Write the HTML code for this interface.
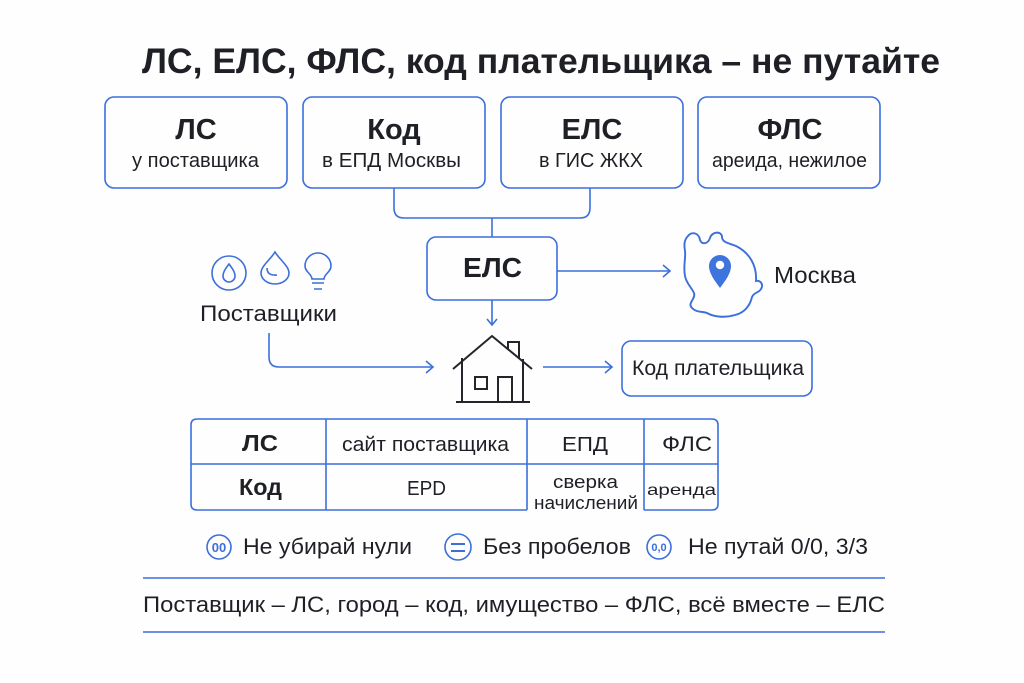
<!DOCTYPE html>
<html>
<head>
<meta charset="utf-8">
<style>
html,body{margin:0;padding:0;background:#fefefe;}
svg{display:block;}
text{font-family:"Liberation Sans","DejaVu Sans",sans-serif;fill:#1e2026;}
.b{font-weight:bold;}
</style>
</head>
<body>
<svg width="1024" height="683" viewBox="0 0 1024 683" xmlns="http://www.w3.org/2000/svg">
<rect x="0" y="0" width="1024" height="683" fill="#fefefe"/>

<!-- Title -->
<text x="142" y="73" font-size="35" class="b" textLength="798" lengthAdjust="spacingAndGlyphs">ЛС, ЕЛС, ФЛС, код плательщика – не путайте</text>

<g fill="none" stroke="#3b6fdc" stroke-width="1.6">
  <!-- top boxes -->
  <rect x="105" y="97" width="182" height="91" rx="9"/>
  <rect x="303" y="97" width="182" height="91" rx="9"/>
  <rect x="501" y="97" width="182" height="91" rx="9"/>
  <rect x="698" y="97" width="182" height="91" rx="9"/>
  <!-- connectors to ELS -->
  <path d="M394,188 V208 Q394,218 404,218 H580 Q590,218 590,208 V188"/>
  <path d="M492,218 V237"/>
  <!-- ELS box -->
  <rect x="427" y="237" width="130" height="63" rx="9"/>
  <!-- ELS down arrow -->
  <path d="M492,300 V325"/>
  <path d="M487,319 L492,325 L497,319"/>
  <!-- ELS right arrow -->
  <path d="M557,271 H670"/>
  <path d="M663,265 L670,271 L663,277"/>
  <!-- suppliers connector -->
  <path d="M269,333 V357 Q269,367 279,367 H433"/>
  <path d="M426,361 L433,367 L426,373"/>
  <!-- house to code arrow -->
  <path d="M543,367 H612"/>
  <path d="M605,361 L612,367 L605,373"/>
  <!-- Код плательщика box -->
  <rect x="622" y="341" width="190" height="55" rx="9"/>
  <!-- Moscow outline -->
  <path d="M688,236 C692,231 699,233 700,240 C702,245 708,244 710,238 C712,231 722,231 722,237 C722,242 728,243 736,246 C750,253 757,266 756,281 C760,280 764,284 761,289 C759,293 754,292 752,297 C750,306 744,313 735,315 C725,318 714,317 707,313 C702,311 697,313 692,308 C687,303 696,299 694,293 C692,288 686,283 685,276 C683,266 686,258 685,251 C684,245 684,240 688,236 Z" stroke-width="1.9"/>
  <!-- icons -->
  <circle cx="229" cy="273" r="17"/>
  <path d="M229,264 C226,268 223,272 223,276 A6,6 0 0 0 235,276 C235,272 232,268 229,264 Z"/>
  <path d="M275,252 C271,259 261,266 261,273 A14,11 0 0 0 289,273 C289,266 279,259 275,252 Z"/>
  <path d="M267,268 Q267,276 277,275"/>
  <path d="M312,279 C312,274 305,272 305,266 A13,13 0 1 1 331,266 C331,272 324,274 324,279 Z"/>
  <path d="M312,283 H324 M314,289 H322"/>
  <!-- table -->
  <path d="M527,510 H197 Q191,510 191,504 V425 Q191,419 197,419 H712 Q718,419 718,425 V504 Q718,510 712,510 H644"/>
  <path d="M191,464 H718 M326,419 V510 M527,419 V510 M644,419 V510"/>
  <!-- tips icons -->
  <circle cx="219" cy="547" r="12"/>
  <circle cx="458" cy="547" r="13"/>
  <path d="M451,544 H465 M451,551 H465" stroke-width="2"/>
  <circle cx="659" cy="547" r="12"/>
  <!-- lines -->
  <path d="M143,578 H885 M143,632 H885"/>
</g>

<!-- Moscow pin -->
<path d="M720,288 C714,280 709,273 709,266 A11,11 0 0 1 731,266 C731,273 726,280 720,288 Z" fill="#3e74de"/>
<circle cx="720" cy="265" r="4.2" fill="#fefefe"/>

<!-- house -->
<g fill="none" stroke="#23252a" stroke-width="2">
  <path d="M453,369 L492,336 L532,369"/>
  <path d="M508,349 V342 H519 V358"/>
  <path d="M462,358 V402 M523,359 V402 M456,402 H530"/>
  <rect x="475" y="377" width="12" height="12"/>
  <path d="M498,402 V377 H512 V402"/>
</g>

<!-- box texts -->
<text x="196" y="139" font-size="29" class="b" text-anchor="middle">ЛС</text>
<text x="132" y="167" font-size="20" textLength="127" lengthAdjust="spacingAndGlyphs">у поставщика</text>
<text x="394" y="139" font-size="29" class="b" text-anchor="middle">Код</text>
<text x="322" y="167" font-size="20" textLength="139" lengthAdjust="spacingAndGlyphs">в ЕПД Москвы</text>
<text x="592" y="139" font-size="29" class="b" text-anchor="middle">ЕЛС</text>
<text x="539" y="167" font-size="20" textLength="104" lengthAdjust="spacingAndGlyphs">в ГИС ЖКХ</text>
<text x="790" y="139" font-size="29" class="b" text-anchor="middle">ФЛС</text>
<text x="712" y="167" font-size="20" textLength="155" lengthAdjust="spacingAndGlyphs">ареида, нежилое</text>

<text x="463" y="277" font-size="28" class="b" textLength="59" lengthAdjust="spacingAndGlyphs">ЕЛС</text>
<text x="774" y="283" font-size="23" textLength="82" lengthAdjust="spacingAndGlyphs">Москва</text>
<text x="200" y="321" font-size="22" textLength="137" lengthAdjust="spacingAndGlyphs">Поставщики</text>
<text x="632" y="375" font-size="21" textLength="172" lengthAdjust="spacingAndGlyphs">Код плательщика</text>

<!-- table texts -->
<text x="242" y="451" font-size="23" class="b" textLength="36" lengthAdjust="spacingAndGlyphs">ЛС</text>
<text x="342" y="451" font-size="20" textLength="167" lengthAdjust="spacingAndGlyphs">сайт поставщика</text>
<text x="562" y="451" font-size="20" textLength="46" lengthAdjust="spacingAndGlyphs">ЕПД</text>
<text x="662" y="451" font-size="21" textLength="50" lengthAdjust="spacingAndGlyphs">ФЛС</text>
<text x="239" y="495" font-size="23" class="b" textLength="43" lengthAdjust="spacingAndGlyphs">Код</text>
<text x="407" y="495" font-size="20" textLength="39" lengthAdjust="spacingAndGlyphs">EPD</text>
<text x="553" y="488" font-size="18" textLength="65" lengthAdjust="spacingAndGlyphs">сверка</text>
<text x="534" y="509" font-size="18" textLength="104" lengthAdjust="spacingAndGlyphs">начислений</text>
<text x="647" y="495" font-size="16" textLength="69" lengthAdjust="spacingAndGlyphs">аренда</text>

<!-- tips -->
<text x="219" y="552" font-size="13" class="b" text-anchor="middle" style="fill:#3b6fdc">00</text>
<text x="659" y="551" font-size="11" class="b" text-anchor="middle" style="fill:#3b6fdc">0,0</text>
<text x="243" y="554" font-size="22" textLength="169" lengthAdjust="spacingAndGlyphs">Не убирай нули</text>
<text x="483" y="554" font-size="22" textLength="148" lengthAdjust="spacingAndGlyphs">Без пробелов</text>
<text x="688" y="554" font-size="22" textLength="180" lengthAdjust="spacingAndGlyphs">Не путай 0/0, 3/3</text>

<text x="143" y="612" font-size="22" textLength="742" lengthAdjust="spacingAndGlyphs">Поставщик – ЛС, город – код, имущество – ФЛС, всё вместе – ЕЛС</text>
</svg>
</body>
</html>
